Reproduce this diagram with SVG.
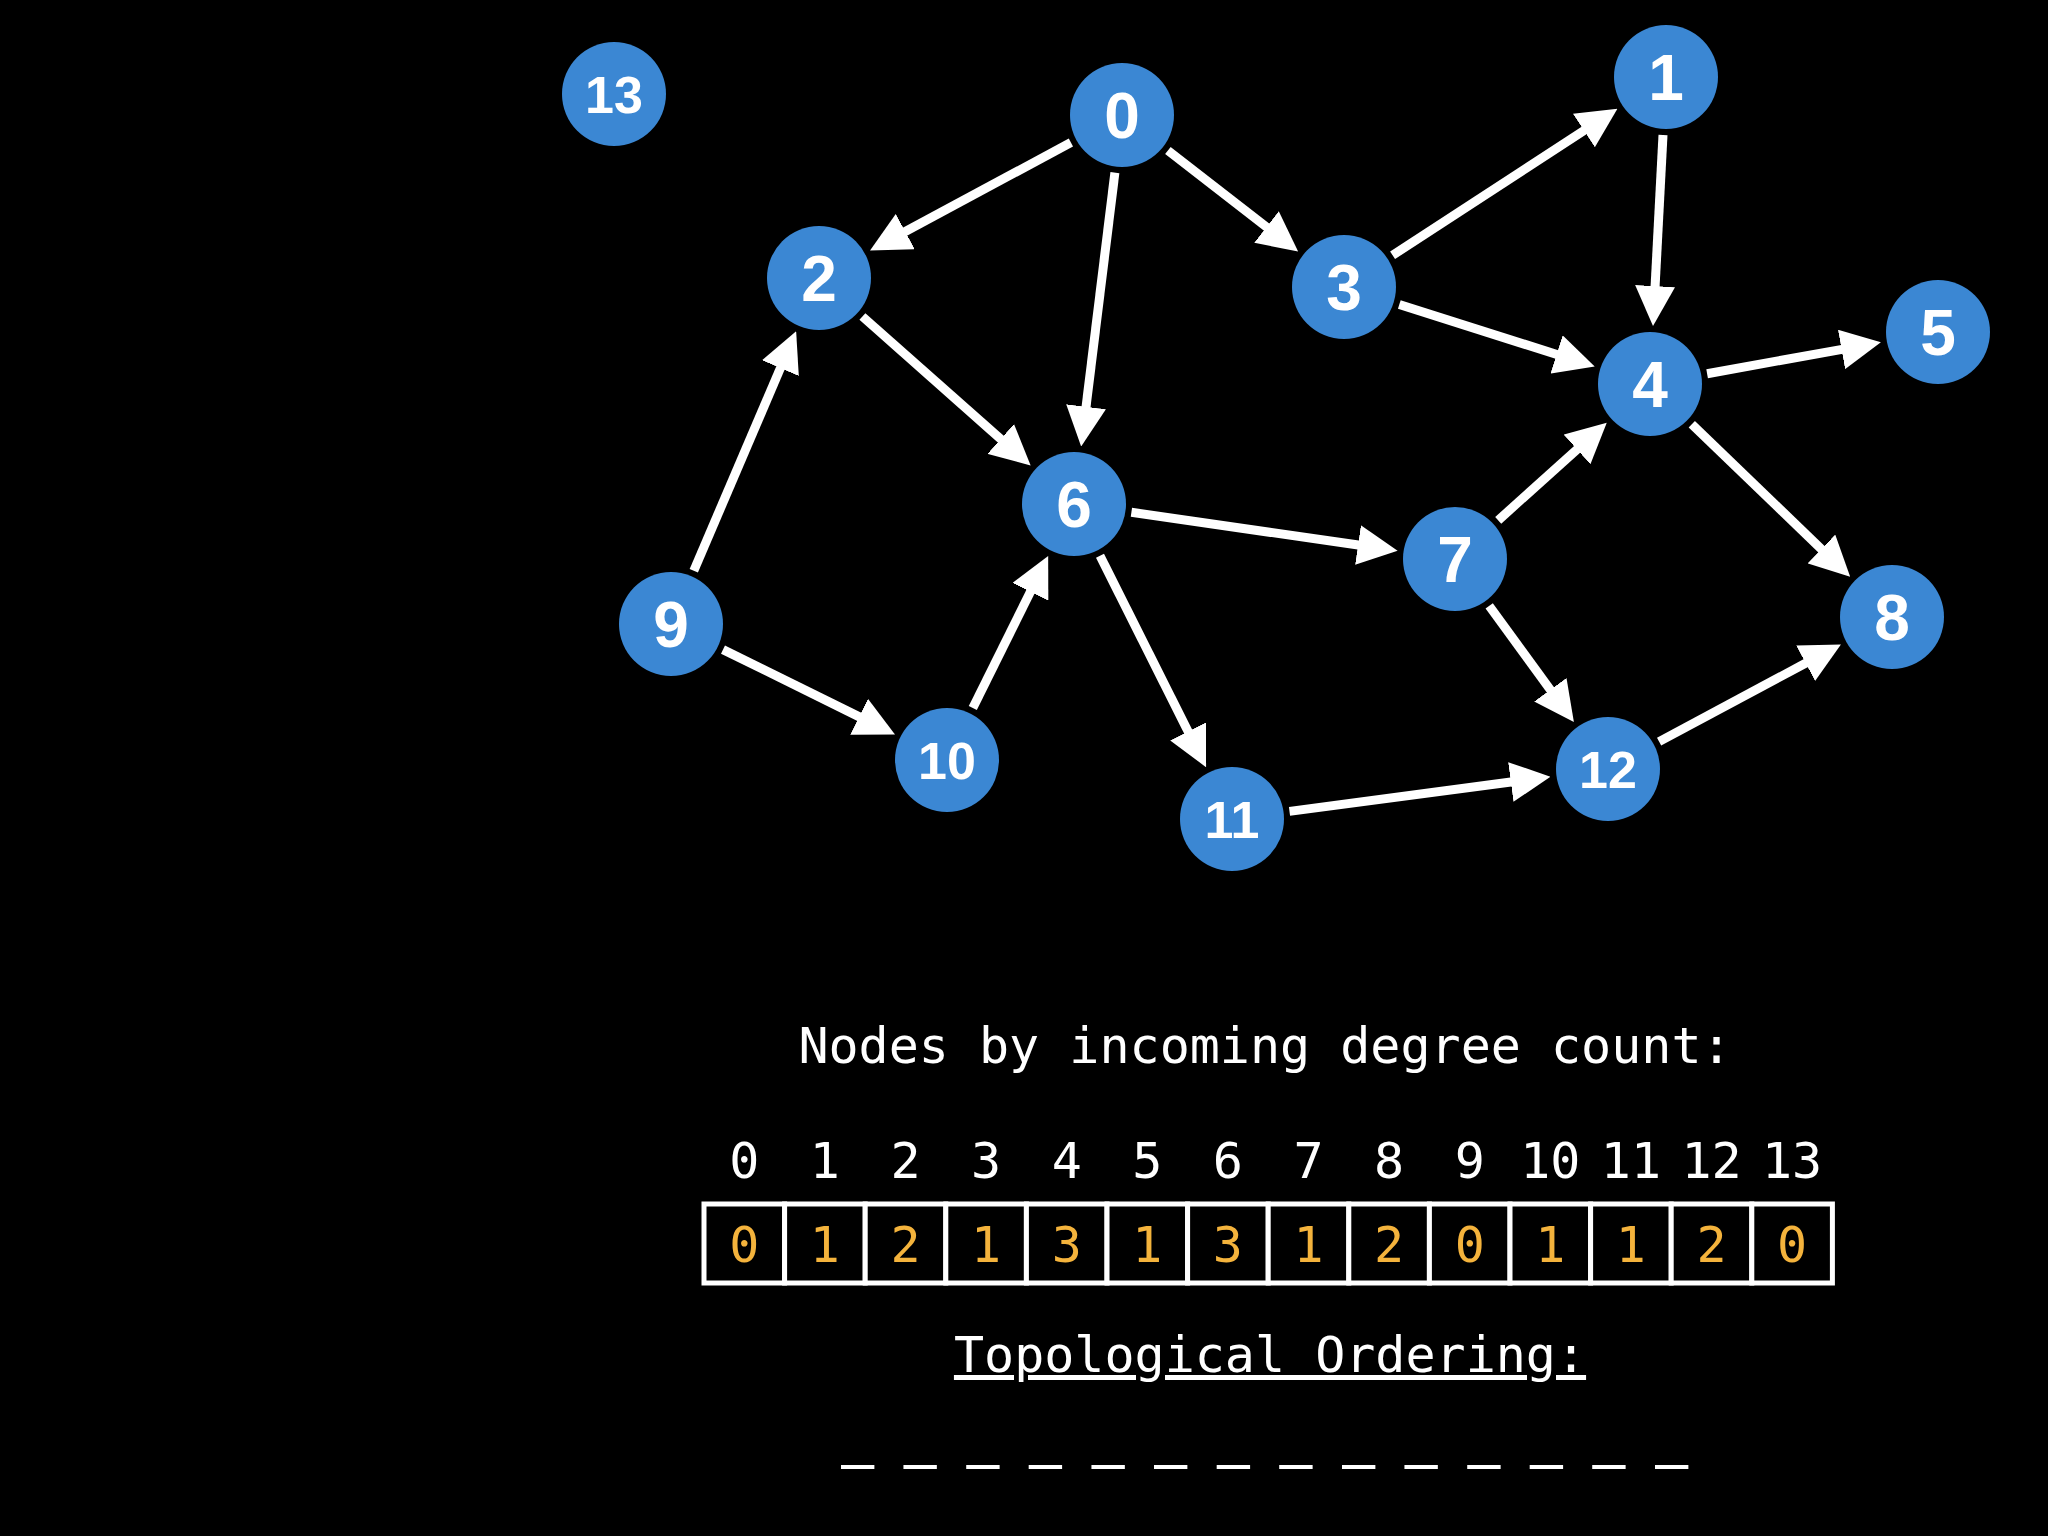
<svg xmlns="http://www.w3.org/2000/svg" width="2048" height="1536" viewBox="0 0 2048 1536">
<style>
.node circle{fill:#3b87d3}
.node text{fill:#fff;font-family:"Liberation Sans",Arial,sans-serif;font-weight:bold;text-anchor:middle}
.big{font-size:64px}
.small{font-size:52px}
.edge{stroke:#fff;stroke-width:9;fill:none;marker-end:url(#arr)}
.mono{font-family:"DejaVu Sans Mono",monospace;font-size:50px;fill:#fff}
.idx{text-anchor:middle}
.val{text-anchor:middle;fill:#f4b33c}
.cell{fill:#000;stroke:#fff;stroke-width:5}
</style>
<defs>
<marker id="arr" markerUnits="userSpaceOnUse" markerWidth="40" markerHeight="40" refX="2" refY="20" orient="auto" viewBox="0 0 40 40">
<path d="M0,0 L40,20 L0,40 z" fill="#fff"/>
</marker>
</defs>
<rect width="2048" height="1536" fill="#000"/>
<g id="connectors">
<line class="edge" x1="1070.9" y1="142.5" x2="903.5" y2="232.5"/>
<line class="edge" x1="1114.9" y1="172.6" x2="1085.8" y2="408.7"/>
<line class="edge" x1="1167.9" y1="150.5" x2="1268.1" y2="228.2"/>
<line class="edge" x1="1392.6" y1="255.3" x2="1585.6" y2="129.4"/>
<line class="edge" x1="1663.0" y1="134.9" x2="1655.0" y2="288.1"/>
<line class="edge" x1="1399.3" y1="304.5" x2="1558.5" y2="355.0"/>
<line class="edge" x1="1707.1" y1="373.7" x2="1843.5" y2="349.1"/>
<line class="edge" x1="1691.8" y1="424.2" x2="1822.8" y2="550.4"/>
<line class="edge" x1="862.4" y1="316.5" x2="1002.2" y2="440.3"/>
<line class="edge" x1="693.8" y1="570.7" x2="781.2" y2="366.3"/>
<line class="edge" x1="723.0" y1="649.6" x2="860.9" y2="717.6"/>
<line class="edge" x1="972.8" y1="708.0" x2="1031.3" y2="590.0"/>
<line class="edge" x1="1131.4" y1="512.3" x2="1360.0" y2="545.3"/>
<line class="edge" x1="1100.0" y1="555.8" x2="1189.0" y2="733.2"/>
<line class="edge" x1="1498.2" y1="520.3" x2="1578.5" y2="448.1"/>
<line class="edge" x1="1489.2" y1="605.9" x2="1551.5" y2="691.4"/>
<line class="edge" x1="1289.5" y1="811.4" x2="1512.8" y2="781.7"/>
<line class="edge" x1="1659.1" y1="741.6" x2="1807.4" y2="662.3"/>
</g>
<g id="node13" class="node"><circle cx="614" cy="94" r="52"/><text class="small" x="614" y="113">13</text></g>
<g id="node0" class="node"><circle cx="1122" cy="115" r="52"/><text class="big" x="1122" y="138">0</text></g>
<g id="node1" class="node"><circle cx="1666" cy="77" r="52"/><text class="big" x="1666" y="100">1</text></g>
<g id="node2" class="node"><circle cx="819" cy="278" r="52"/><text class="big" x="819" y="301">2</text></g>
<g id="node3" class="node"><circle cx="1344" cy="287" r="52"/><text class="big" x="1344" y="310">3</text></g>
<g id="node4" class="node"><circle cx="1650" cy="384" r="52"/><text class="big" x="1650" y="407">4</text></g>
<g id="node5" class="node"><circle cx="1938" cy="332" r="52"/><text class="big" x="1938" y="355">5</text></g>
<g id="node6" class="node"><circle cx="1074" cy="504" r="52"/><text class="big" x="1074" y="527">6</text></g>
<g id="node7" class="node"><circle cx="1455" cy="559" r="52"/><text class="big" x="1455" y="582">7</text></g>
<g id="node8" class="node"><circle cx="1892" cy="617" r="52"/><text class="big" x="1892" y="640">8</text></g>
<g id="node9" class="node"><circle cx="671" cy="624" r="52"/><text class="big" x="671" y="647">9</text></g>
<g id="node10" class="node"><circle cx="947" cy="760" r="52"/><text class="small" x="947" y="779">10</text></g>
<g id="node11" class="node"><circle cx="1232" cy="819" r="52"/><text class="small" x="1232" y="838">11</text></g>
<g id="node12" class="node"><circle cx="1608" cy="769" r="52"/><text class="small" x="1608" y="788">12</text></g>
<g id="table">
<text class="mono" x="1265" y="1063" text-anchor="middle">Nodes by incoming degree count:</text>
<g class="mono idx">
<text x="744.3" y="1178">0</text><text x="824.9" y="1178">1</text><text x="905.5" y="1178">2</text><text x="986.1" y="1178">3</text><text x="1066.7" y="1178">4</text><text x="1147.3" y="1178">5</text><text x="1227.9" y="1178">6</text><text x="1308.5" y="1178">7</text><text x="1389.1" y="1178">8</text><text x="1469.7" y="1178">9</text><text x="1550.3" y="1178">10</text><text x="1630.9" y="1178">11</text><text x="1711.5" y="1178">12</text><text x="1792.1" y="1178">13</text>
</g>
<g>
<rect class="cell" x="704" y="1204" width="80.6" height="79"/><rect class="cell" x="784.6" y="1204" width="80.6" height="79"/><rect class="cell" x="865.2" y="1204" width="80.6" height="79"/><rect class="cell" x="945.8" y="1204" width="80.6" height="79"/><rect class="cell" x="1026.4" y="1204" width="80.6" height="79"/><rect class="cell" x="1107" y="1204" width="80.6" height="79"/><rect class="cell" x="1187.6" y="1204" width="80.6" height="79"/><rect class="cell" x="1268.2" y="1204" width="80.6" height="79"/><rect class="cell" x="1348.8" y="1204" width="80.6" height="79"/><rect class="cell" x="1429.4" y="1204" width="80.6" height="79"/><rect class="cell" x="1510" y="1204" width="80.6" height="79"/><rect class="cell" x="1590.6" y="1204" width="80.6" height="79"/><rect class="cell" x="1671.2" y="1204" width="80.6" height="79"/><rect class="cell" x="1751.8" y="1204" width="80.6" height="79"/>
</g>
<g class="mono val">
<text x="744.3" y="1262">0</text><text x="824.9" y="1262">1</text><text x="905.5" y="1262">2</text><text x="986.1" y="1262">1</text><text x="1066.7" y="1262">3</text><text x="1147.3" y="1262">1</text><text x="1227.9" y="1262">3</text><text x="1308.5" y="1262">1</text><text x="1389.1" y="1262">2</text><text x="1469.7" y="1262">0</text><text x="1550.3" y="1262">1</text><text x="1630.9" y="1262">1</text><text x="1711.5" y="1262">2</text><text x="1792.1" y="1262">0</text>
</g>
<text class="mono" x="1270" y="1372" text-anchor="middle" text-decoration="underline">Topological Ordering:</text>
<text class="mono" x="842" y="1456" style="font-size:52px" stroke="#fff" stroke-width="2">_ _ _ _ _ _ _ _ _ _ _ _ _ _</text>
</g>
</svg>
